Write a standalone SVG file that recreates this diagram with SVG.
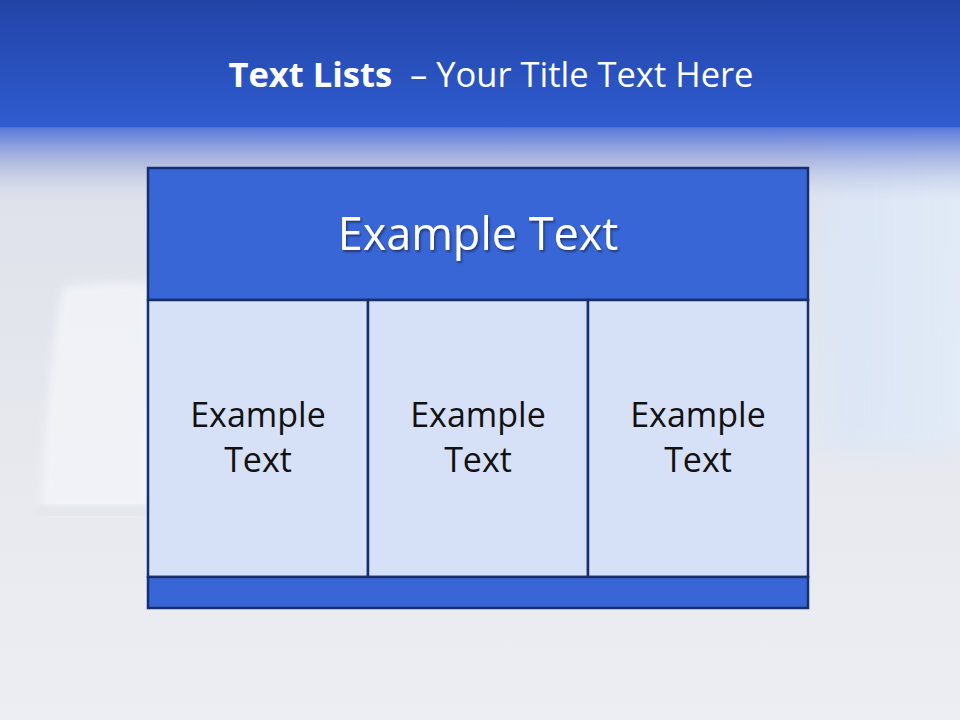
<svg xmlns="http://www.w3.org/2000/svg" width="960" height="720" viewBox="0 0 960 720">
<defs>
<linearGradient id="bg" x1="0" y1="0" x2="0" y2="1">
<stop offset="0" stop-color="#d9dde8"/>
<stop offset="0.6" stop-color="#e6e8ee"/>
<stop offset="1" stop-color="#eceef3"/>
</linearGradient>
<linearGradient id="band" x1="0" y1="0" x2="0" y2="1">
<stop offset="0" stop-color="#2244a6"/>
<stop offset="1" stop-color="#2f5cd1"/>
</linearGradient>
<linearGradient id="fade" x1="0" y1="0" x2="0" y2="1">
<stop offset="0" stop-color="#4f70d8" stop-opacity="0.95"/>
<stop offset="0.5" stop-color="#9aa8dc" stop-opacity="0.6"/>
<stop offset="1" stop-color="#c8cfe8" stop-opacity="0"/>
</linearGradient>
<linearGradient id="sky" x1="0" y1="0" x2="1" y2="0">
<stop offset="0" stop-color="#dfe9f7" stop-opacity="0"/>
<stop offset="0.3" stop-color="#dae6f6" stop-opacity="0.9"/>
<stop offset="1" stop-color="#e3ecf8" stop-opacity="0.95"/>
</linearGradient>
<filter id="blur" x="-20%" y="-20%" width="140%" height="140%">
<feGaussianBlur stdDeviation="12"/>
</filter>
<filter id="blur2" x="-20%" y="-20%" width="140%" height="140%">
<feGaussianBlur stdDeviation="4"/>
</filter>
<filter id="sh" x="-10%" y="-10%" width="120%" height="130%">
<feDropShadow dx="1.5" dy="2" stdDeviation="1" flood-color="#000" flood-opacity="0.45"/>
</filter>
<style>
.box{stroke:#16306f;stroke-width:2.5}
.hd{fill:#3966d6}
.cell{fill:#d6e0f7}
.t{font-family:"Open Sans","Noto Sans",sans-serif;text-anchor:middle}
.ct{font-size:34px;fill:#111}
</style>
</defs>
<rect width="960" height="720" fill="url(#bg)"/>
<rect x="790" y="120" width="190" height="330" fill="url(#sky)" filter="url(#blur)"/>
<path d="M62 288 Q95 280 150 283 L150 512 L42 512 Q44 400 62 288 Z" fill="#f3f5f9" opacity="0.8" filter="url(#blur2)"/>
<rect x="38" y="506" width="112" height="8" fill="#d8dbe2" opacity="0.6" filter="url(#blur2)"/>
<rect x="0" y="0" width="960" height="128" fill="url(#band)"/>
<rect x="0" y="127" width="960" height="75" fill="url(#fade)"/>
<text class="t" x="491" y="87" font-size="34.5" fill="#fff"><tspan font-weight="bold">Text Lists</tspan><tspan xml:space="preserve">  – Your Title Text Here</tspan></text>
<g id="header">
<rect class="box hd" x="148" y="168" width="660" height="132"/>
<text class="t" x="478" y="250" font-size="45" fill="#fff" filter="url(#sh)">Example Text</text>
</g>
<g id="col1">
<rect class="box cell" x="148" y="300" width="220" height="277"/>
<text class="t ct" x="258" y="427">Example</text>
<text class="t ct" x="258" y="472">Text</text>
</g>
<g id="col2">
<rect class="box cell" x="368" y="300" width="220" height="277"/>
<text class="t ct" x="478" y="427">Example</text>
<text class="t ct" x="478" y="472">Text</text>
</g>
<g id="col3">
<rect class="box cell" x="588" y="300" width="220" height="277"/>
<text class="t ct" x="698" y="427">Example</text>
<text class="t ct" x="698" y="472">Text</text>
</g>
<g id="footer">
<rect class="box hd" x="148" y="577" width="660" height="31"/>
</g>
<g id="connectors"/>
</svg>
